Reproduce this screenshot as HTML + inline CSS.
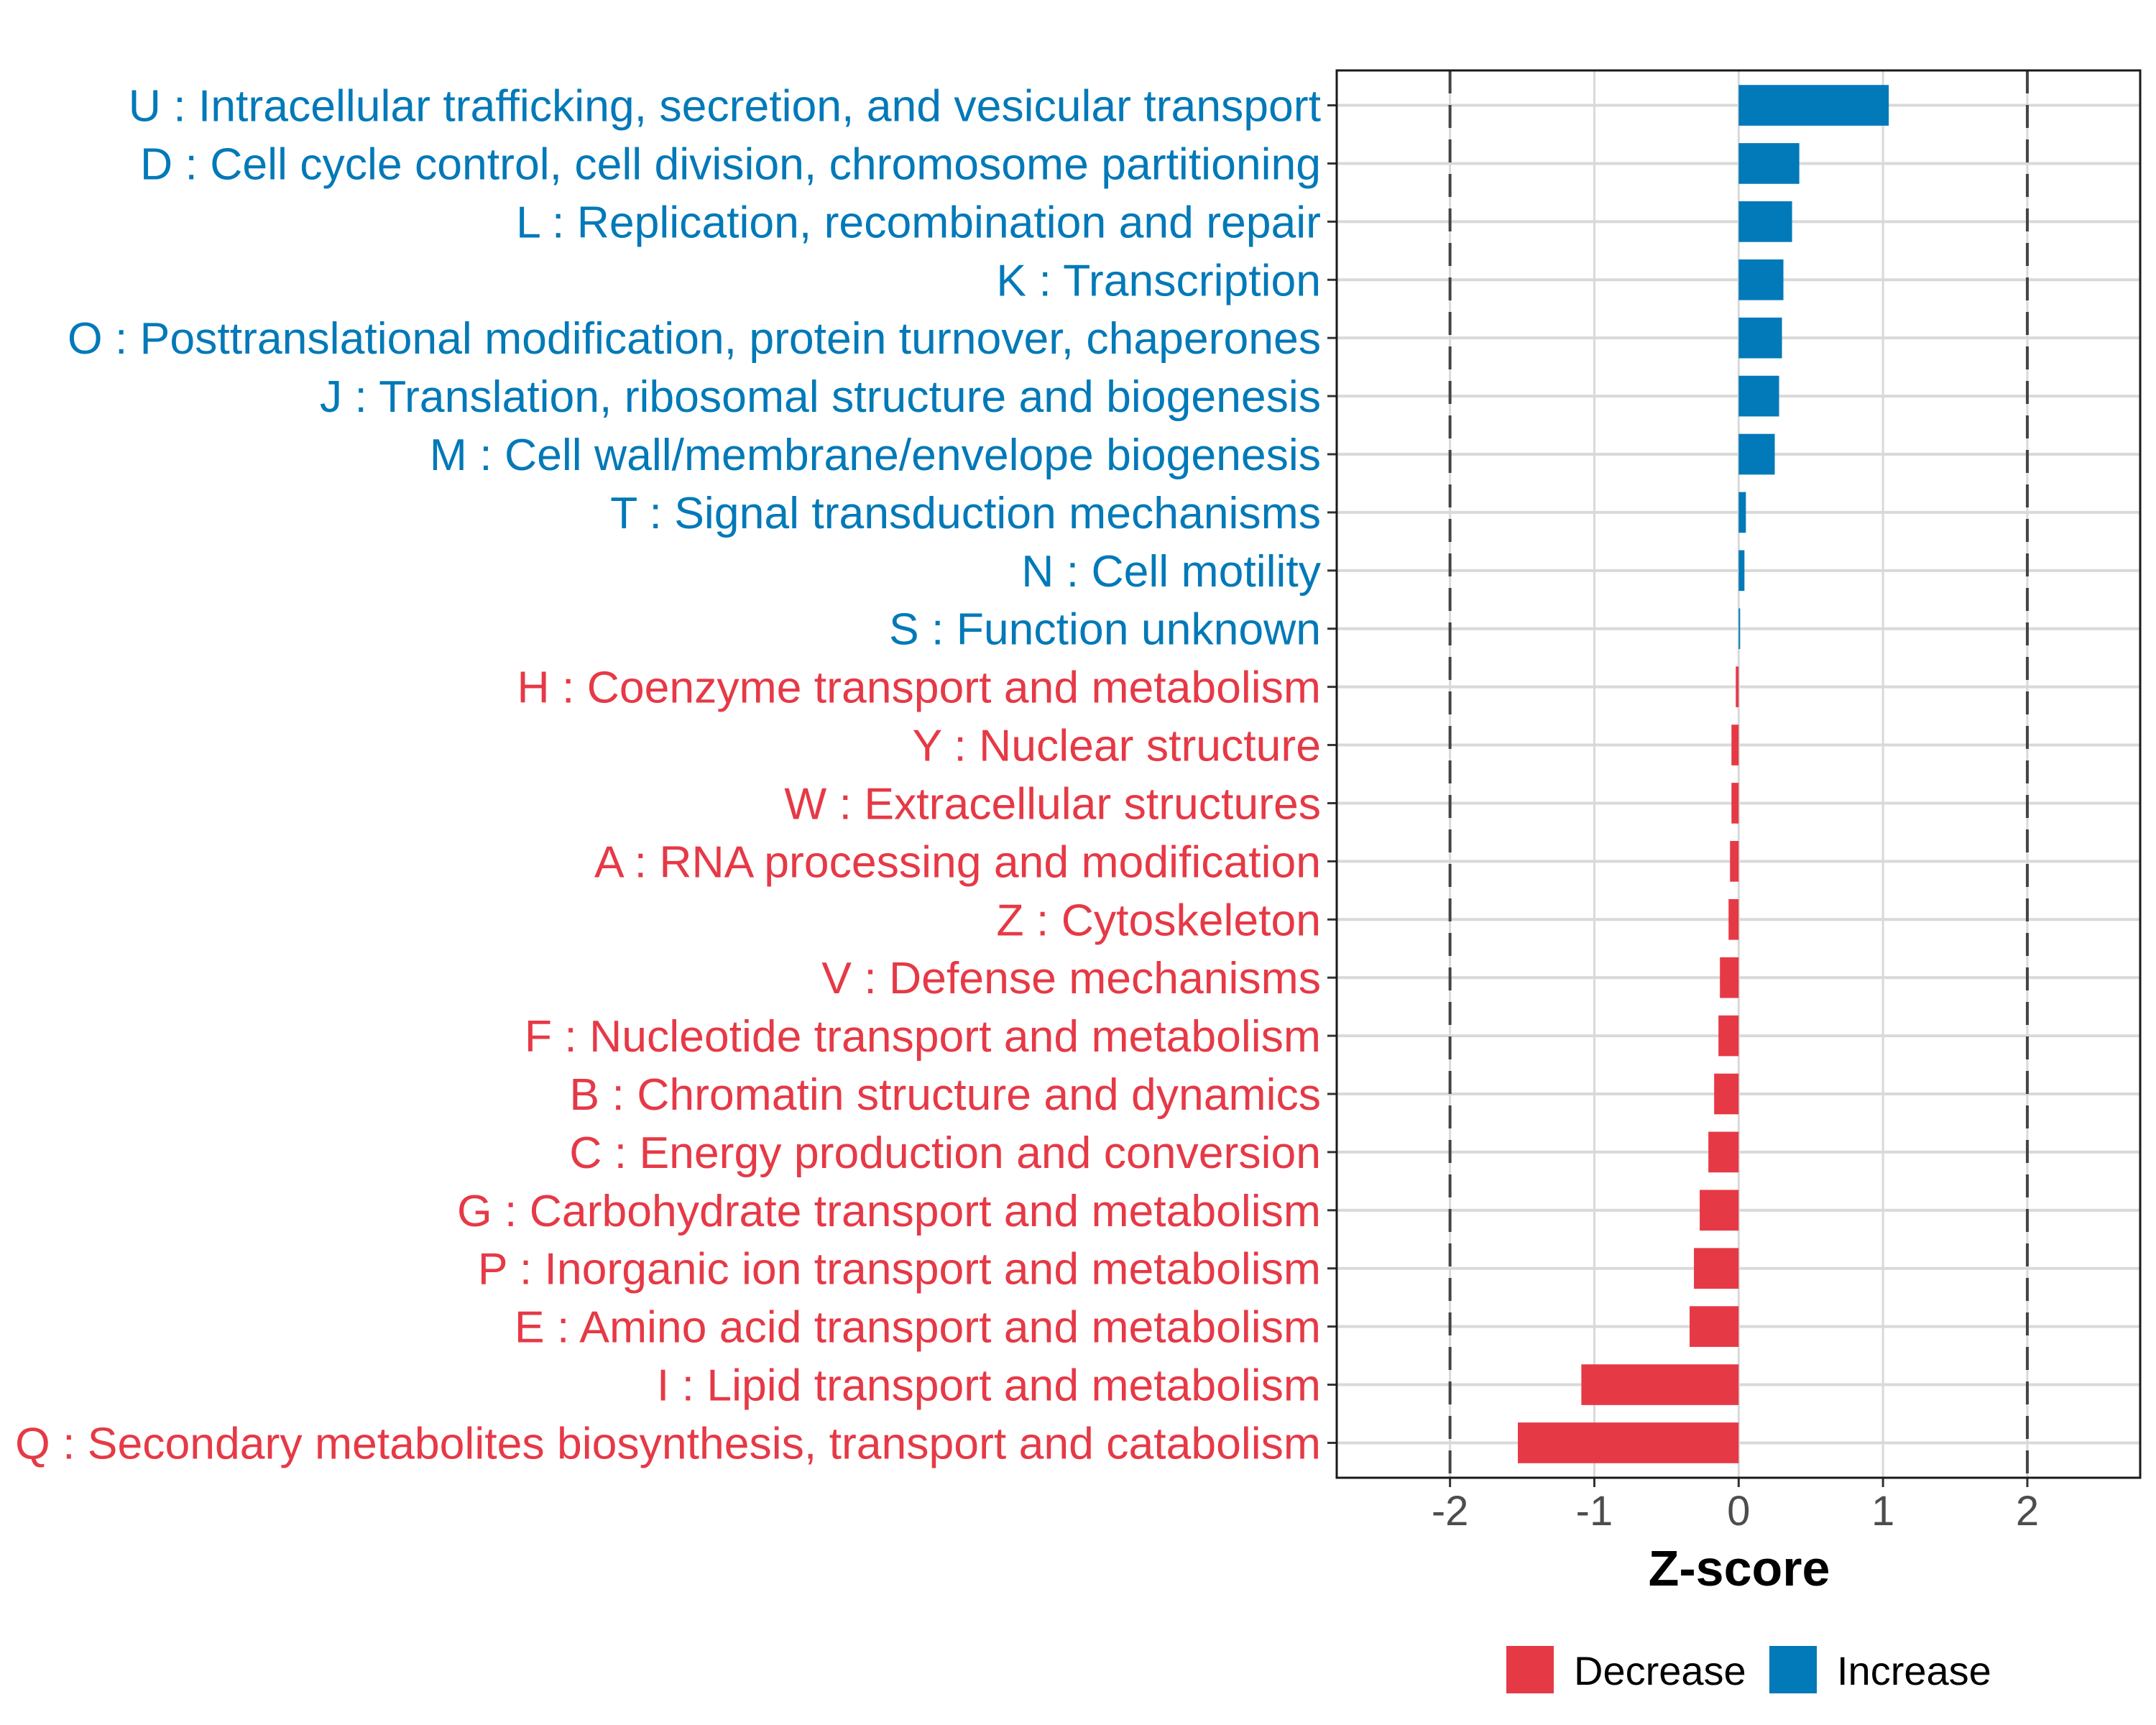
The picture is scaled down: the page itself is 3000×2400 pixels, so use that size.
<!DOCTYPE html>
<html><head><meta charset="utf-8">
<style>html,body{margin:0;padding:0;background:#fff}svg{display:block}</style></head>
<body>
<svg id="chart" width="3000" height="2400" viewBox="0 0 3000 2400" xmlns="http://www.w3.org/2000/svg" font-family="'Liberation Sans', sans-serif">
<rect width="3000" height="2400" fill="#fff"/>
<g id="grid"></g><g id="bars"></g><g id="labels"></g><g id="xaxis"></g>
<rect x="1860" y="98" width="1118" height="1958" fill="none" stroke="#1a1a1a" stroke-width="3"/>
<text x="2420" y="2206" font-size="70" font-weight="bold" text-anchor="middle" fill="#000">Z-score</text>
<g>
<rect x="2096" y="2290" width="66" height="66" fill="#E63946"/>
<text x="2190" y="2344" font-size="56" fill="#000">Decrease</text>
<rect x="2462" y="2290" width="66" height="66" fill="#0279B8"/>
<text x="2556" y="2344" font-size="56" fill="#000">Increase</text>
</g>
</svg>
<script>
const categories = ["U : Intracellular trafficking, secretion, and vesicular transport","D : Cell cycle control, cell division, chromosome partitioning","L : Replication, recombination and repair","K : Transcription","O : Posttranslational modification, protein turnover, chaperones","J : Translation, ribosomal structure and biogenesis","M : Cell wall/membrane/envelope biogenesis","T : Signal transduction mechanisms","N : Cell motility","S : Function unknown","H : Coenzyme transport and metabolism","Y : Nuclear structure","W : Extracellular structures","A : RNA processing and modification","Z : Cytoskeleton","V : Defense mechanisms","F : Nucleotide transport and metabolism","B : Chromatin structure and dynamics","C : Energy production and conversion","G : Carbohydrate transport and metabolism","P : Inorganic ion transport and metabolism","E : Amino acid transport and metabolism","I : Lipid transport and metabolism","Q : Secondary metabolites biosynthesis, transport and catabolism"];
const zscores = [1.04,0.42,0.37,0.31,0.30,0.28,0.25,0.05,0.04,0.01,-0.02,-0.05,-0.05,-0.06,-0.07,-0.13,-0.14,-0.17,-0.21,-0.27,-0.31,-0.34,-1.09,-1.53];
const xTicks = [-2,-1,0,1,2];
const xTickLabels = ["-2","-1","0","1","2"];
const thresholds = [-2,2];

const NS="http://www.w3.org/2000/svg";
const PL=1860,PR=2978,PT=98,PB=2056;
const XMIN=-2.785,XMAX=2.782;
function xs(v){return PL+(v-XMIN)/(XMAX-XMIN)*(PR-PL);}
const n=categories.length;
const step=(PB-PT)/(n-1+1.2);
function ys(i){return PT+step*(0.6+i);}
function mk(tag,attrs,parent){const e=document.createElementNS(NS,tag);for(const k in attrs)e.setAttribute(k,attrs[k]);parent.appendChild(e);return e;}
const grid=document.getElementById('grid'),bars=document.getElementById('bars'),labels=document.getElementById('labels'),xaxis=document.getElementById('xaxis');
xTicks.forEach((t,i)=>{
  const l=mk('line',{x1:xs(t),x2:xs(t),y1:PT,y2:PB,stroke:'#d9d9d9','stroke-width':3},grid);
  
  
  const tk=mk('line',{x1:xs(t),x2:xs(t),y1:PB,y2:PB+13,stroke:'#333','stroke-width':3},xaxis);
  
  
  const tx=mk('text',{x:xs(t),y:PB+66,'font-size':58,'text-anchor':'middle',fill:'#4d4d4d'},xaxis);
  tx.textContent=xTickLabels[i];
  
  
});
categories.forEach((c,i)=>{
  const y=ys(i);
  const g=mk('line',{x1:PL,x2:PR,y1:y,y2:y,stroke:'#d9d9d9','stroke-width':4},grid);
  
  
});
thresholds.forEach(t=>{
  const d=mk('line',{x1:xs(t),x2:xs(t),y1:PT,y2:PB,stroke:'#444','stroke-width':4,'stroke-dasharray':'32,16'},grid);
  
  
});
categories.forEach((c,i)=>{
  const v=zscores[i],y=ys(i),h=step*0.7;
  const col=v>=0?'#0279B8':'#E63946';
  const x0=Math.min(xs(0),xs(v)),w=Math.max(Math.abs(xs(v)-xs(0)),1);
  const r=mk('rect',{x:x0,y:y-h/2,width:w,height:h,fill:col},bars);
  
  
  const tk=mk('line',{x1:PL-13,x2:PL,y1:y,y2:y,stroke:'#333','stroke-width':3},labels);
  
  
  const t=mk('text',{x:PL-22,y:y+22,'font-size':62.5,'text-anchor':'end',fill:col},labels);
  t.textContent=c;
  
  
});
</script>
</body></html>
